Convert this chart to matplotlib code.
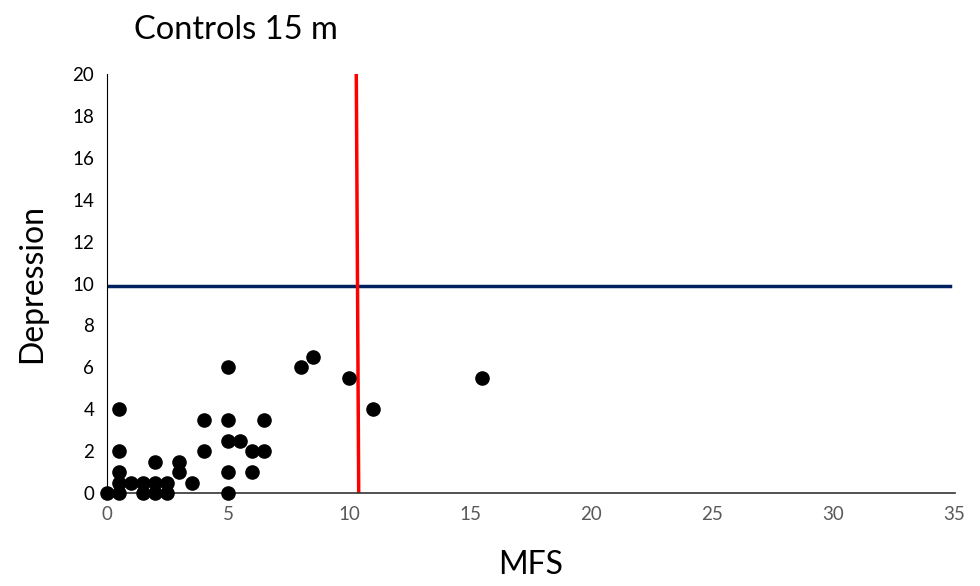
import matplotlib.pyplot as plt

plt.rcParams['font.family'] = ['Lato', 'DejaVu Sans']

# MFS vs Depression scores
mfs = [0, 0.5, 0.5, 0.5, 0.5, 0.5, 1, 1.5, 1.5, 2, 2, 2, 2.5, 2.5, 3, 3, 3.5,
       4, 4, 5, 5, 5, 5.5, 5, 5, 6, 6, 6.5, 6.5, 8, 8.5, 10, 11, 15.5]
depression = [0, 0, 0.5, 1, 2, 4, 0.5, 0, 0.5, 0, 0.5, 1.5, 0, 0.5, 1, 1.5, 0.5,
              3.5, 2, 6, 3.5, 2.5, 2.5, 1, 0, 2, 1, 3.5, 2, 6, 6.5, 5.5, 4, 5.5]

cut_mfs = [10.3, 10.4]     # vertical cut-off (top, bottom)
cut_dep = 9.9              # horizontal cut-off
cut_dep_x = [0, 34.8]

fig = plt.figure(figsize=(9.8, 5.86), dpi=100)
ax = fig.add_axes([0.109, 0.1587, 0.865, 0.715])

ax.scatter(mfs, depression, s=90, color='black', zorder=3, clip_on=False)
ax.plot(cut_dep_x, [cut_dep, cut_dep], color='#002060', lw=2.5)
ax.plot(cut_mfs, [20, 0], color='#ff0000', lw=2.5)

ax.set_xlim(0, 35)
ax.set_ylim(0, 20)
ax.set_xticks(range(0, 36, 5))
ax.set_yticks(range(0, 21, 2))
ax.tick_params(length=0, labelsize=13.5, pad=9)
ax.tick_params(axis='x', colors='#595959')
ax.tick_params(axis='y', colors='black')
for s in ['top', 'right']:
    ax.spines[s].set_visible(False)
ax.spines['left'].set_color('black')
ax.spines['bottom'].set_color('#333333')
ax.spines['bottom'].set_linewidth(1.2)

ax.set_xlabel('MFS', fontsize=23, labelpad=20)
ax.set_ylabel('Depression', fontsize=23, labelpad=18)
fig.text(0.137, 0.948, 'Controls 15 m', fontsize=23.5, va='center')

fig.savefig('out.png')
